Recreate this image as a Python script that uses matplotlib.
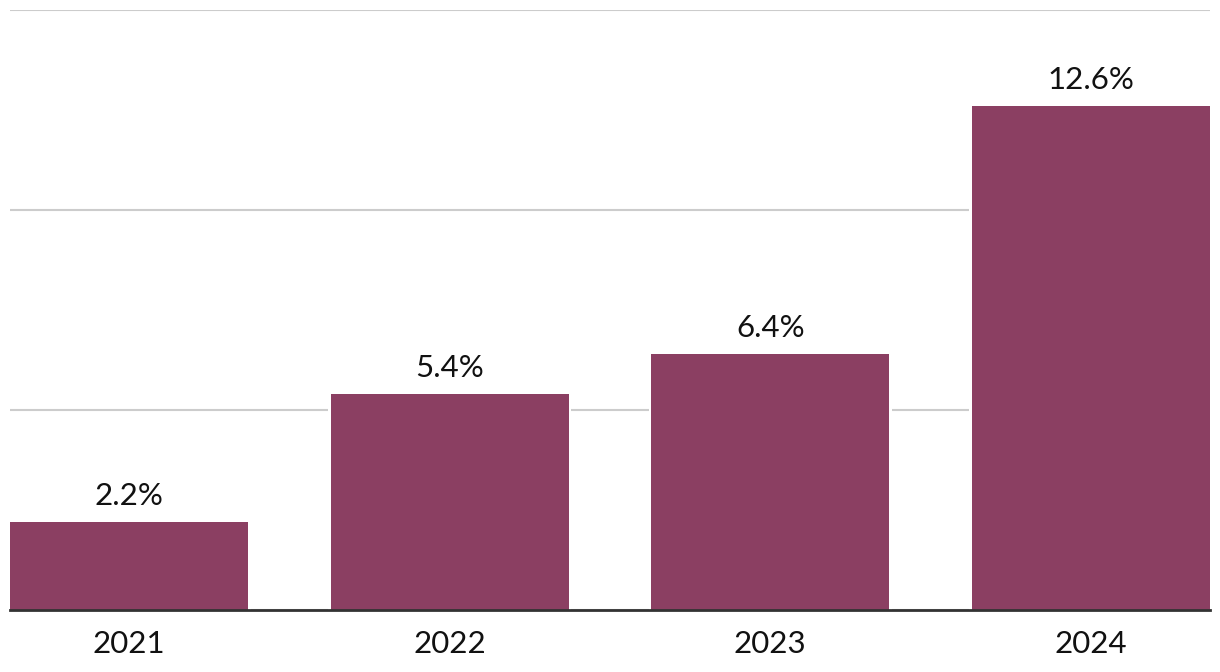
import matplotlib
matplotlib.use("Agg")
import matplotlib.pyplot as plt

years = ["2021", "2022", "2023", "2024"]
values = [2.2, 5.4, 6.4, 12.6]
labels = ["2.2%", "5.4%", "6.4%", "12.6%"]
yticks = [0, 5, 10, 15]

plt.rcParams['font.family'] = ['Lato', 'DejaVu Sans']

fig = plt.figure(figsize=(12.2, 6.72), dpi=100)
ax = fig.add_axes([10/1220, 1-610/672, 1200/1220, 600/672])

x = list(range(len(years)))
bw = 0.744
gap = 2.5 / 320
ax.bar(x, values, width=bw + 2 * gap, color="white", linewidth=0, zorder=1.5)
ax.bar(x, values, width=bw, color="#8B3F62", linewidth=0, zorder=2)
ax.set_xlim(-bw / 2, len(years) - 1 + bw / 2)
ax.set_ylim(0, 15)
ax.set_yticks(yticks)
ax.yaxis.grid(True, color="#cccccc", linewidth=1.5, zorder=0)
ax.set_axisbelow(True)
ax.tick_params(axis="y", left=False, labelleft=False)
ax.tick_params(axis="x", length=0, pad=14.5, labelsize=22.5, labelcolor="#111111")
ax.set_xticks(x)
ax.set_xticklabels(years)
for s in ["top", "right", "left"]:
    ax.spines[s].set_visible(False)
ax.spines["bottom"].set_color("#333333")
ax.spines["bottom"].set_linewidth(2)
ax.spines["bottom"].set_zorder(3)

for xi, v, lab in zip(x, values, labels):
    ax.annotate(lab, (xi, v), xytext=(0, 8.5), textcoords="offset points",
                ha="center", va="bottom", fontsize=22.5, color="#111111")

fig.savefig("out.png", dpi=100)
